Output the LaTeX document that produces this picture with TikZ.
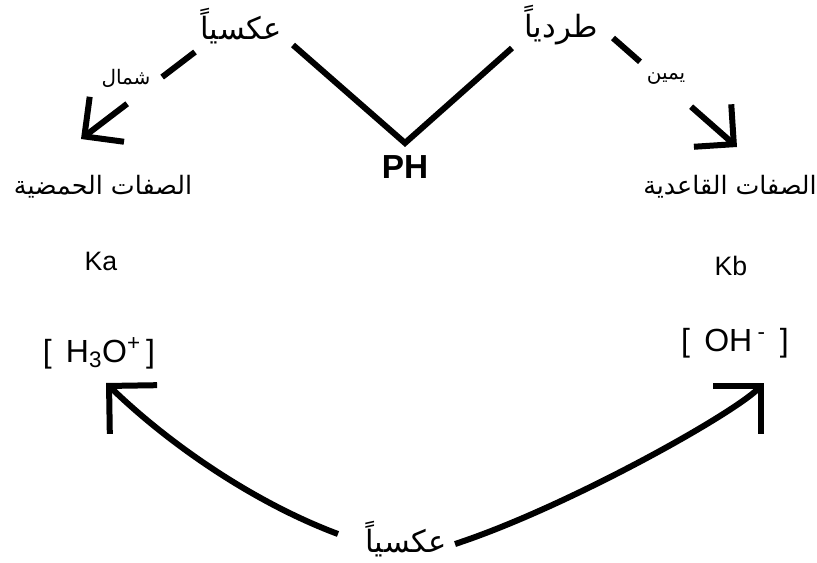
\documentclass[tikz,border=0pt]{standalone}
\usepackage{fontspec}
\setmainfont{Liberation Sans}
\newfontfamily\arabicfont[Script=Arabic]{DejaVu Sans}
\TeXXeTstate=1
\usetikzlibrary{arrows.meta}

\newcommand{\artext}[1]{{\arabicfont\beginR #1\endR}}

\begin{document}
\begin{tikzpicture}[x=0.75pt, y=-0.75pt,
    bigar/.style={font=\fontsize{23}{26}\selectfont},
    midar/.style={font=\fontsize{19}{22}\selectfont},
    smallar/.style={font=\fontsize{15}{18}\selectfont},
    latin/.style={font=\fontsize{20}{23}\selectfont},
    conc/.style={font=\fontsize{24}{28}\selectfont},
    thickline/.style={line width=4.5pt},
    barb/.style={-{Straight Barb[angle=90:#1, sharp]}},
    barb/.default=30pt]
    \useasboundingbox (0,0) rectangle (817,563);

    % Labels
    \node[bigar] (inv) at (241,26) {\artext{عكسياً}};
    \node[bigar] (dir) at (561,25) {\artext{طردياً}};
    \node[font=\fontsize{25}{28}\selectfont\bfseries] (ph) at (405,167) {PH};
    \node[smallar] (left) at (126,78) {\artext{شمال}};
    \node[smallar] (right) at (666,79) {\artext{يمين}};
    \node[midar] (acid) at (103,187) {\artext{الصفات الحمضية}};
    \node[midar] (base) at (730,187) {\artext{الصفات القاعدية}};
    \node[latin] (ka) at (101,261) {Ka};
    \node[latin] (kb) at (731,266) {Kb};
    \node[conc] (h3o) at (99,353) {[\, H\textsubscript{3}O\textsuperscript{+}\,]};
    \node[conc] (oh) at (735,343) {[\, OH\,\textsuperscript{-}\, ]};
    \node[bigar] (invb) at (406,539) {\artext{عكسياً}};

    % V under PH
    \coordinate (vl) at (293,45);
    \coordinate (vr) at (512,48);
    \coordinate (vb) at (405,143);
    \draw[thickline, line join=miter] (vl) -- (vb) -- (vr);

    % Dashed arrows to the properties
    \coordinate (la) at (195,52);
    \coordinate (lb) at (81,139);
    \coordinate (ra) at (613,38);
    \coordinate (rb) at (737,147);
    \draw[thickline, barb, dash pattern=on 31pt off 33pt on 60pt] (la) -- (lb);
    \draw[thickline, barb, dash pattern=on 27pt off 51pt on 60pt] (ra) -- (rb);

    % Curved arrows from bottom label
    \coordinate (bl) at (338,534);
    \coordinate (tl) at (106,383);
    \coordinate (br) at (455,544);
    \coordinate (tr) at (764,383);
    \draw[thickline, barb=36pt] (bl) .. controls (255,503) and (170,445) .. (tl);
    \draw[thickline, barb=36pt] (br) .. controls (565,508) and (732,415) .. (tr);
\end{tikzpicture}
\end{document}
